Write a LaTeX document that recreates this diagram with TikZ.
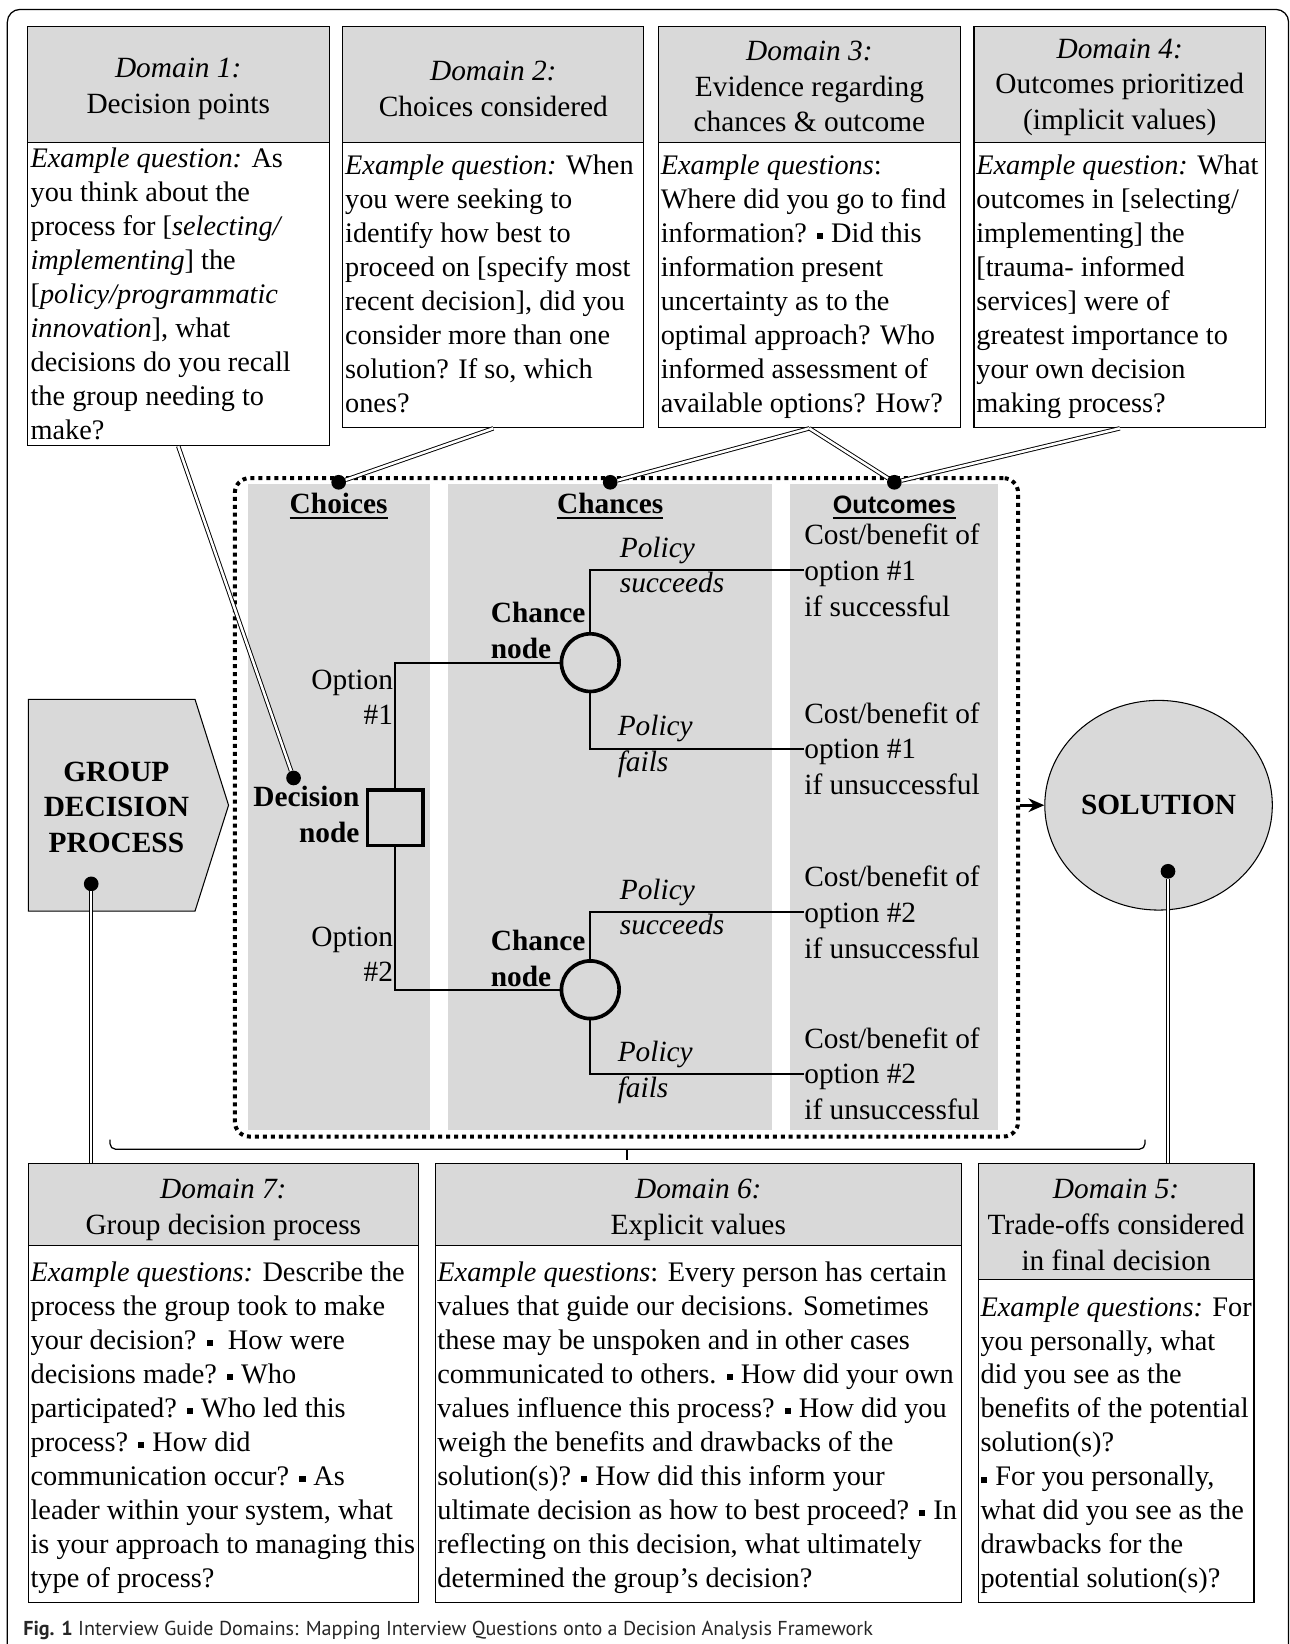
\documentclass[tikz,border=0pt]{standalone}
\usepackage{fontspec}
\setmainfont{Liberation Serif}
\newfontfamily\capfont{PT Sans}
\newfontfamily\outfont{Liberation Sans}
\usetikzlibrary{shapes.geometric,arrows.meta,calc}
\newcommand{\fsb}{\fontsize{27}{32.4}\selectfont}
\newcommand{\fsh}{\fontsize{28}{34}\selectfont}
\newcommand{\sq}{\hbox{\kern0.8pt\raisebox{3pt}{\rule{5.8pt}{5.8pt}}\kern0.8pt}}
\newcommand{\fl}{\rule{0pt}{20pt}}
\newcommand{\hs}[1]{\rule{0pt}{#1pt}}
\newcommand{\uln}[1]{\setbox0\hbox{#1}\rlap{\rule[-5pt]{\wd0}{1.8pt}}\box0}
\tikzset{
 hdr/.style={draw, line width=1.1pt, fill=black!15, inner sep=0pt, align=center, font=\fsh},
 bodybox/.style={draw, line width=1.1pt, fill=white, inner sep=0pt},
 bodytext/.style={anchor=north west, inner sep=0pt, align=left, font=\fsb},
 colfill/.style={fill=black!15},
 jdot/.style={circle, fill=black, inner sep=0pt, minimum size=14pt},
 dblline/.style={double=white, double distance=2.4pt, line width=0.9pt},
 treeline/.style={line width=2pt},
 tlabel/.style={inner sep=0pt, font=\fsh},
}
\begin{document}
\begin{tikzpicture}[x=1pt,y=-1pt]
\useasboundingbox (0,0) rectangle (1230,1568);
% outer frame
\draw[line width=1.2pt, rounded corners=12pt] (7,1590) -- (7,9) -- (1229,9) -- (1229,1590);

% top domain boxes
\node[hdr, minimum width=288pt, minimum height=111pt] (d1h) at (170,80.5) {\hs{27}\textit{Domain 1:}\\Decision points};
\node[bodybox, minimum width=288pt, minimum height=289pt] (d1b) at (170,280.5) {};
\node[bodytext] (d1t) at (29,140) {\fl\textit{Example question:} As\\you think about the\\process for [\textit{selecting/}\\\textit{implementing}] the\\{[}\textit{policy/programmatic}\\\textit{innovation}], what\\decisions do you recall\\the group needing to\\make?};

\node[hdr, minimum width=287pt, minimum height=111pt] (d2h) at (470.5,80.5) {\hs{27}\textit{Domain 2:}\\Choices considered};
\node[bodybox, minimum width=287pt, minimum height=272pt] (d2b) at (470.5,272) {};
\node[bodytext] (d2t) at (329,146) {\fl\textit{Example question:} When\\you were seeking to\\identify how best to\\proceed on [specify most\\recent decision], did you\\consider more than one\\solution? If so, which\\ones?};

\node[hdr, minimum width=288pt, minimum height=111pt] (d3h) at (772,80.5) {\hs{23}\textit{Domain 3:}\\Evidence regarding\\chances \& outcome};
\node[bodybox, minimum width=288pt, minimum height=272pt] (d3b) at (772,272) {};
\node[bodytext] (d3t) at (630,146) {\fl\textit{Example questions}:\\Where did you go to find\\information? \sq{} Did this\\information present\\uncertainty as to the\\optimal approach? Who\\informed assessment of\\available options? How?};

\node[hdr, minimum width=278pt, minimum height=111pt] (d4h) at (1068,80.5) {\hs{24}\textit{Domain 4:}\\Outcomes prioritized\\(implicit values)};
\node[bodybox, minimum width=278pt, minimum height=272pt] (d4b) at (1068,272) {};
\node[bodytext] (d4t) at (931,146) {\fl\textit{Example question:} What\\outcomes in [selecting/\\implementing] the\\{[}trauma- informed\\services] were of\\greatest importance to\\your own decision\\making process?};

% bottom domain boxes
\node[hdr, minimum width=372pt, minimum height=78pt] (d7h) at (213,1149) {\hs{29}\textit{Domain 7:}\\Group decision process};
\node[bodybox, minimum width=372pt, minimum height=340pt] (d7b) at (213,1358) {};
\node[bodytext] (d7t) at (29,1202) {\fl\textit{Example questions:} Describe the\\process the group took to make\\your decision? \sq\ \ How were\\decisions made? \sq{} Who\\participated? \sq{} Who led this\\process? \sq{} How did\\communication occur? \sq{} As\\leader within your system, what\\is your approach to managing this\\type of process?};

\node[hdr, minimum width=502pt, minimum height=78pt] (d6h) at (666,1149) {\hs{29}\textit{Domain 6:}\\Explicit values};
\node[bodybox, minimum width=502pt, minimum height=340pt] (d6b) at (666,1358) {};
\node[bodytext] (d6t) at (417,1202) {\fl\textit{Example questions}: Every person has certain\\values that guide our decisions. Sometimes\\these may be unspoken and in other cases\\communicated to others. \sq{} How did your own\\values influence this process? \sq{} How did you\\weigh the benefits and drawbacks of the\\solution(s)? \sq{} How did this inform your\\ultimate decision as how to best proceed? \sq{} In\\reflecting on this decision, what ultimately\\determined the group’s decision?};

\node[hdr, minimum width=263pt, minimum height=110pt] (d5h) at (1064.5,1165) {\hs{25}\textit{Domain 5:}\\Trade-offs considered\\in final decision};
\node[bodybox, minimum width=263pt, minimum height=308pt] (d5b) at (1064.5,1374) {};
\node[bodytext] (d5t) at (935,1235) {\fl\textit{Example questions:} For\\you personally, what\\did you see as the\\benefits of the potential\\solution(s)?\\\sq{} For you personally,\\what did you see as the\\drawbacks for the\\potential solution(s)?};

% central framework
\fill[colfill] (237,462) rectangle (410,1078);
\fill[colfill] (427,462) rectangle (736,1078);
\fill[colfill] (753,462) rectangle (952,1078);
\node[draw, line width=3.8pt, dash pattern=on 3.8pt off 3.8pt, rounded corners=14pt, minimum width=747pt, minimum height=628pt, inner sep=0pt] (frame) at (597.5,770) {};

\node[tlabel, anchor=base] (hch) at (323,490) {\textbf{\uln{Choices}}};
\node[tlabel, anchor=base] (hcn) at (582,490) {\textbf{\uln{Chances}}};
\node[inner sep=0pt, anchor=base, font=\outfont\bfseries\fontsize{24}{28}\selectfont] (hout) at (853,490) {\uln{Outcomes}};

% decision tree
\node[draw, line width=3.5pt, minimum size=53pt, inner sep=0pt] (dn) at (377,780) {};
\node[circle, draw, line width=3.5pt, minimum size=55pt, inner sep=0pt] (cn1) at (563,632) {};
\node[circle, draw, line width=3.5pt, minimum size=55pt, inner sep=0pt] (cn2) at (563,944) {};

\node[tlabel, anchor=west, align=left] (oc1) at (767,544) {Cost/benefit of\\option \#1\\if successful};
\node[tlabel, anchor=west, align=left] (oc2) at (767,714) {Cost/benefit of\\option \#1\\if unsuccessful};
\node[tlabel, anchor=west, align=left] (oc3) at (767,870) {Cost/benefit of\\option \#2\\if unsuccessful};
\node[tlabel, anchor=west, align=left] (oc4) at (767,1024) {Cost/benefit of\\option \#2\\if unsuccessful};

\draw[treeline] (dn.north) |- (cn1.west);
\draw[treeline] (dn.south) |- (cn2.west);
\draw[treeline] (cn1.north) |- (oc1.west);
\draw[treeline] (cn1.south) |- (oc2.west);
\draw[treeline] (cn2.north) |- (oc3.west);
\draw[treeline] (cn2.south) |- (oc4.west);

\node[tlabel, anchor=east, align=right] (op1) at (375,665) {Option\\\#1};
\node[tlabel, anchor=east, align=right] (op2) at (375,910) {Option\\\#2};
\node[tlabel, anchor=east, align=right, font=\fsh\bfseries] (dl) at (343,777) {Decision\\node};
\node[tlabel, anchor=west, align=left, font=\fsh\bfseries] (cl1) at (468,601) {Chance\\node};
\node[tlabel, anchor=west, align=left, font=\fsh\bfseries] (cl2) at (468,914) {Chance\\node};
\node[tlabel, anchor=west, align=left, font=\fsh\itshape] (ps1) at (591,539) {Policy\\succeeds};
\node[tlabel, anchor=west, align=left, font=\fsh\itshape] (pf1) at (589,712) {Policy\\fails};
\node[tlabel, anchor=west, align=left, font=\fsh\itshape] (ps2) at (591,865) {Policy\\succeeds};
\node[tlabel, anchor=west, align=left, font=\fsh\itshape] (pf2) at (589,1023) {Policy\\fails};

% group decision process
\draw[line width=1pt, fill=black!15] (27,667) -- (186,667) -- (218,768) -- (186,869) -- (27,869) -- cycle;
\node[tlabel, align=center, font=\fsh\bfseries] (gdp) at (111,770) {GROUP\\DECISION\\PROCESS};

% solution
\node[ellipse, draw, line width=1pt, fill=black!15, minimum width=217pt, minimum height=200pt, inner sep=0pt, font=\fsh\bfseries] (sol) at (1105,768) {SOLUTION};
\draw[line width=3pt, -{Stealth[length=15pt,width=13pt]}] (frame.east |- sol.west) -- (sol.west);

% dots
\node[jdot] (dchoice) at (323,460) {};
\node[jdot] (dchance) at (582,460) {};
\node[jdot] (doutc) at (853,460) {};
\node[jdot] (ddec) at (280,742) {};
\node[jdot] (dgdp) at (87,843) {};
\node[jdot] (dsol) at (1114,831) {};

% connectors
\draw[dblline] (d1b.south) -- (ddec);
\draw[dblline] (d2b.south) -- (dchoice);
\draw[dblline] (d3b.south) -- (dchance);
\draw[dblline] (d3b.south) -- (doutc);
\draw[dblline] (d4b.south) -- (doutc);
\draw[dblline] (dgdp) -- (dgdp |- d7h.north);
\draw[dblline] (dsol) -- (dsol |- d5h.north);

% bracket
\coordinate (bl) at (105,1087);
\coordinate (br) at (1092,1087);
\coordinate (bm) at (598,1096);
\draw[line width=1.2pt, rounded corners=5pt] (bl) -- (105,1096) -- (1092,1096) -- (br);
\draw[line width=1.6pt] (bm) -- ++(0,10);

% caption
\node[anchor=base west, inner sep=0pt, text=black!85, font=\capfont\fontsize{19.2}{23}\selectfont] (cap) at (22,1560) {\textbf{Fig. 1} Interview Guide Domains: Mapping Interview Questions onto a Decision Analysis Framework};
\end{tikzpicture}
\end{document}
